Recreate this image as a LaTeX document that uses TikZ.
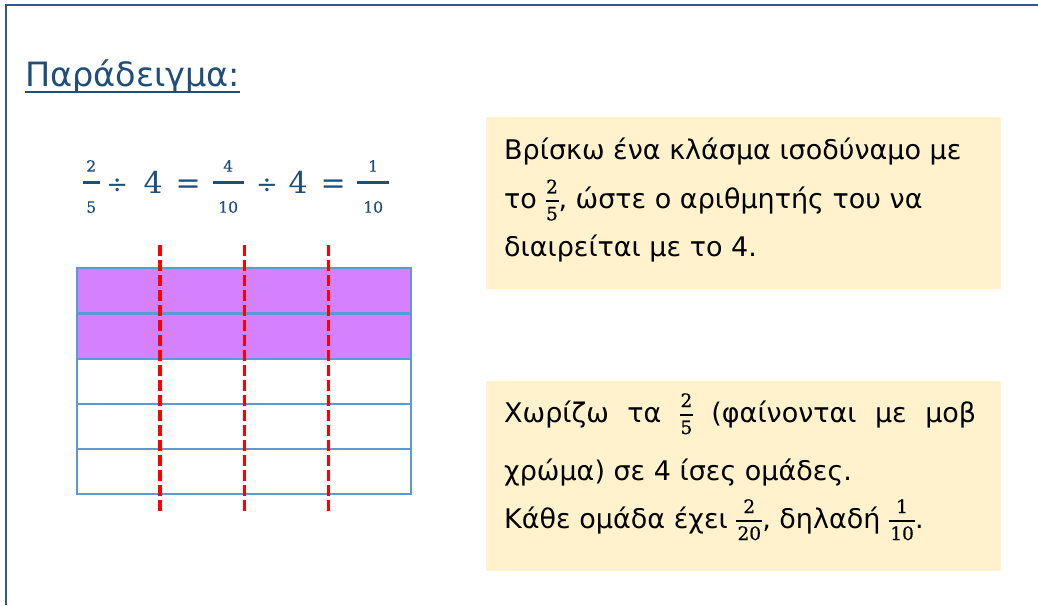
\documentclass[tikz,border=0pt]{standalone}
\usepackage{fontspec}
\setmainfont{DejaVu Sans}
\newfontfamily\numfont{DejaVu Serif}
\newfontfamily\fracfont[FakeBold=0.6]{DejaVu Serif}
\definecolor{titleblue}{HTML}{1F4E79}
\definecolor{frameblue}{HTML}{2F5597}
\definecolor{note}{HTML}{FFF2CC}
\definecolor{purplefill}{HTML}{D580FF}
\definecolor{gridblue}{HTML}{5B9BD5}
% num, den, digit size, width, bar centre above baseline, bar thickness, num baseline up, den baseline down
\newcommand\genfr[8]{\hbox to #4{%
  \rlap{\raisebox{\dimexpr#5-#6/2\relax}{\rule{#4}{#6}}}%
  \rlap{\hbox to #4{\hss\raisebox{#7}{\fracfont\fontsize{#3}{#3}\selectfont #1}\hss}}%
  \hbox to #4{\hss\raisebox{-#8}{\fracfont\fontsize{#3}{#3}\selectfont #2}\hss}}}
\newcommand\efr[3][16.7pt]{\genfr{#2}{#3}{15.5}{#1}{10.3pt}{3pt}{21.3pt}{19.7pt}}
\newcommand\tfr[3][13pt]{\genfr{#2}{#3}{18.5}{#1}{7pt}{1.8pt}{15pt}{12pt}}
% place content centred at a given distance from the start of the line
\newcommand\pc[2]{\rlap{\kern#1\relax\makebox[0pt]{#2}}}
\begin{document}
\begin{tikzpicture}[x=1pt,y=-1pt,
  txt/.style={anchor=base west,inner sep=0pt,font=\fontsize{27}{32}\selectfont},
  gridline/.style={draw=gridblue,line width=2.5pt},
  cut/.style={draw=red,line width=3.5pt,dash pattern=on 11pt off 4pt}]
\useasboundingbox (0,0) rectangle (1038,605);
\fill[white] (0,0) rectangle (1038,605);
\draw[frameblue,line width=2.2pt] (6,605) -- (6,5) -- (1038,5);
% title
\node[anchor=base west,inner sep=0pt,text=titleblue,font=\fontsize{33.5}{40}\selectfont] (title) at (25,86) {Παράδειγμα:};
\draw[titleblue,line width=2.5pt] ([yshift=-6pt]title.base west) -- ([yshift=-6pt]title.base east);
% equation
\node[anchor=base west,inner sep=0pt,text=titleblue,font=\fontsize{30}{40}\selectfont\numfont] (eq) at (82.7,193)
  {\pc{8.35pt}{\efr{2}{5}}\pc{34.3pt}{{\fontsize{26}{30}\selectfont ÷}}\pc{70.3pt}{4}\pc{105.3pt}{=}%
   \pc{145.3pt}{\efr[30.7pt]{4}{10}}\pc{184pt}{{\fontsize{26}{30}\selectfont ÷}}\pc{215.3pt}{4}\pc{250.3pt}{=}%
   \pc{290.3pt}{\efr[31.7pt]{1}{10}}\hspace*{306pt}};
% grid
\fill[purplefill] (77,268) rectangle (411,359);
\draw[gridline] (77,268) rectangle (411,494);
\foreach \y in {313.5,359,404,449} \draw[gridline] (77,\y) -- (411,\y);
\foreach \x in {160,244.3,328.3} \draw[cut] (\x,245) -- (\x,514);
% note boxes
\fill[note] (486,117) rectangle (1001,289);
\fill[note] (486,381) rectangle (1001,571);
\node[txt] (a1) at (504,159.3) {Βρίσκω ένα κλάσμα ισοδύναμο με};
\node[txt] (a2) at (504,208.3) {το \tfr{2}{5}, ώστε ο αριθμητής του να};
\node[txt] (a3) at (504,256.7) {διαιρείται με το 4.};
\node[txt] (b1) at (504,422) {\makebox[472pt][s]{Χωρίζω τα \tfr{2}{5} (φαίνονται με μοβ}};
\node[txt] (b2) at (504,480) {χρώμα) σε 4 ίσες ομάδες.};
\node[txt] (b3) at (504,528) {Κάθε ομάδα έχει \tfr[26pt]{2}{20}, δηλαδή \tfr[26pt]{1}{10}.};
\end{tikzpicture}
\end{document}
